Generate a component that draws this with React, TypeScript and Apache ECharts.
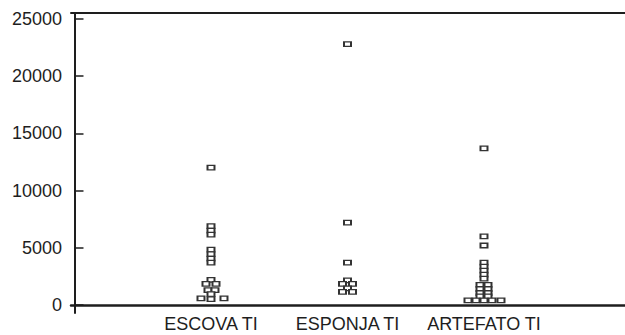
import React, { useEffect, useRef } from "react";
import * as echarts from "echarts";

const categories = ["ESCOVA TI", "ESPONJA TI", "ARTEFATO TI"];
const yTicks = [0, 5000, 10000, 15000, 20000, 25000];

// values of each group, with a horizontal dot-plot offset (in pixels) for stacked points
const escovaValues = [12000, 6900, 6500, 6150, 4850, 4450, 4050, 3700, 2200, 1850, 1850, 1300, 1300, 960, 570, 520, 570];
const escovaOffsets = [0, 0, 0, 0, 0, 0, 0, 0, 0, -5, 5, -3, 4, 0, -10, 0, 13];

const esponjaValues = [22800, 7200, 3700, 2150, 1850, 1850, 1450, 1150, 1150];
const esponjaOffsets = [0, 0, 0, 0, -5, 5, 0, -5, 5];

const artefatoValues = [13700, 6000, 5200, 3700, 3350, 3000, 2650, 2300, 1750, 1750, 1400, 1400, 1050, 1050, 750, 750, 400, 400, 400, 400, 400];
const artefatoOffsets = [0, 0, 0, 0, 0, 0, 0, 0, -4, 4, -4, 4, -4, 4, -4, 4, -16, -8, 0, 8, 17];

const PX_PER_UNIT = 136.5;

function build(values: number[], offsets: number[], idx: number) {
  return values.map((v, i) => [idx + offsets[i] / PX_PER_UNIT, v]);
}

export default function App() {
  const ref = useRef<HTMLDivElement>(null);
  useEffect(() => {
    document.body.style.margin = "0";
    const chart = echarts.init(ref.current!, null, { renderer: "svg" });
    const font = "'Liberation Sans', Arial, sans-serif";
    const axisColor = "#1e1e1e";
    const data = [
      ...build(escovaValues, escovaOffsets, 1),
      ...build(esponjaValues, esponjaOffsets, 2),
      ...build(artefatoValues, artefatoOffsets, 3),
    ];
    chart.setOption({
      animation: false,
      backgroundColor: "#fff",
      grid: { left: 71, right: 0, top: 13, bottom: 22 },
      xAxis: [
        {
          type: "value",
          position: "bottom",
          min: -0.0256,
          max: 4.033,
          splitLine: { show: false },
          axisTick: { show: false },
          axisLine: { show: true, lineStyle: { color: axisColor, width: 2.5 } },
          axisLabel: {
            customValues: [1, 2, 3],
            formatter: (v: number) => categories[Math.round(v) - 1] ?? "",
            color: axisColor,
            fontSize: 18,
            fontFamily: font,
            margin: 2,
          },
        },
        {
          type: "value",
          position: "top",
          min: -0.0256,
          max: 4.033,
          splitLine: { show: false },
          axisTick: { show: false },
          axisLabel: { show: false },
          axisLine: { show: true, lineStyle: { color: axisColor, width: 2 } },
        },
      ],
      yAxis: {
        type: "value",
        min: -699,
        max: 25524,
        splitLine: { show: false },
        axisLine: { show: true, lineStyle: { color: axisColor, width: 2 } },
        axisTick: {
          show: true,
          inside: true,
          length: 9,
          customValues: yTicks,
          lineStyle: { color: axisColor, width: 1.5 },
        },
        axisLabel: {
          customValues: yTicks,
          formatter: (v: number) => String(v),
          color: axisColor,
          fontSize: 18,
          fontFamily: font,
          margin: 9,
        },
      },
      series: [
        {
          type: "scatter",
          data,
          symbol: "rect",
          symbolSize: [7, 4.5],
          itemStyle: { color: "#fff", borderColor: "#333", borderWidth: 1.6, opacity: 1 },
          silent: true,
        },
      ],
    });
    return () => chart.dispose();
  }, []);
  return <div ref={ref} style={{ position: "fixed", left: 0, top: 0, width: 625, height: 335 }} />;
}
